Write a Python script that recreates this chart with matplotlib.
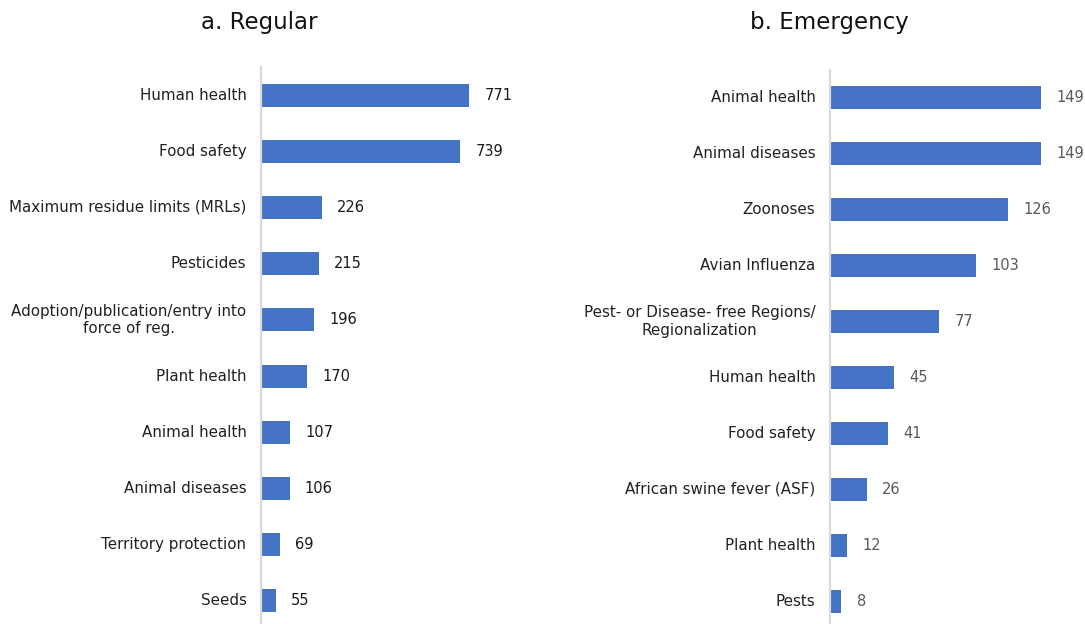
import matplotlib.pyplot as plt

# data
regular_labels = ["Human health", "Food safety", "Maximum residue limits (MRLs)",
                  "Pesticides", "Adoption/publication/entry into\nforce of reg.",
                  "Plant health", "Animal health", "Animal diseases",
                  "Territory protection", "Seeds"]
regular_values = [771, 739, 226, 215, 196, 170, 107, 106, 69, 55]

emergency_labels = ["Animal health", "Animal diseases", "Zoonoses", "Avian Influenza",
                    "Pest- or Disease- free Regions/\nRegionalization", "Human health",
                    "Food safety", "African swine fever (ASF)", "Plant health", "Pests"]
emergency_values = [149, 149, 126, 103, 77, 45, 41, 26, 12, 8]

W, H = 1085, 624
bar_color = "#4472c4"
plt.rcParams['font.family'] = ['DejaVu Sans']

fig = plt.figure(figsize=(W / 100, H / 100), dpi=100)


def panel(x0, x1, top, bottom, labels, values, xmax, title, title_x, val_color):
    ax = fig.add_axes([x0 / W, (H - bottom) / H, (x1 - x0) / W, (bottom - top) / H])
    y = list(range(len(values)))
    ax.barh(y, values, height=0.41, color=bar_color)
    ax.set_xlim(0, xmax)
    ax.set_ylim(len(values) - 0.5, -0.5)
    ax.set_yticks(y)
    ax.set_yticklabels(labels, fontsize=10.9, color="#222222",
                       multialignment="center", va="center")
    ax.tick_params(axis="y", length=0, pad=10.5)
    ax.set_xticks([])
    for s in ["top", "right", "bottom"]:
        ax.spines[s].set_visible(False)
    ax.spines["left"].set_color("#d9d9d9")
    ax.spines["left"].set_linewidth(1.6)
    for yi, v in zip(y, values):
        ax.annotate(str(v), (v, yi), xytext=(11, 0), textcoords="offset points",
                    va="center", ha="left", fontsize=10.5, color=val_color)
    fig.text(title_x / W, 1 - 22 / H, title, ha="center", va="center",
             fontsize=16.5, color="#111111")
    return ax


# left: 771 -> 208 px, right: 149 -> 211 px
panel(261, 540, 67, 629, regular_labels, regular_values, 279 / (208 / 771),
      "a. Regular", 259, "#1a1a1a")
panel(830, 1085, 70, 629, emergency_labels, emergency_values, 255 / (211 / 149),
      "b. Emergency", 829, "#595959")

fig.savefig("out.png", dpi=100)
